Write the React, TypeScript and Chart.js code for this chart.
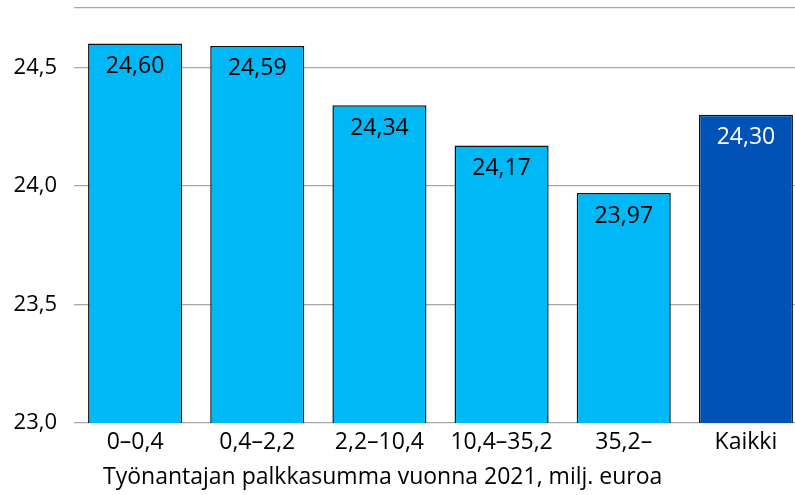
import React, { useEffect, useRef } from "react";
import { Chart, registerables } from "chart.js";

Chart.register(...registerables);

const categories = ["0–0,4", "0,4–2,2", "2,2–10,4", "10,4–35,2", "35,2–", "Kaikki"];
const values = [24.6, 24.59, 24.34, 24.17, 23.97, 24.3];
const barColors = ["#00B8F5", "#00B8F5", "#00B8F5", "#00B8F5", "#00B8F5", "#0052B4"];
const labelColors = ["#000000", "#000000", "#000000", "#000000", "#000000", "#FFFFFF"];
const yTicks = [23.0, 23.5, 24.0, 24.5, 24.75];
const xTitle = "Työnantajan palkkasumma vuonna 2021, milj. euroa";

const FONT = "'Open Sans', sans-serif";

const valueLabels = {
  id: "valueLabels",
  afterDatasetsDraw(chart: any) {
    const ctx = chart.ctx;
    const meta = chart.getDatasetMeta(0);
    ctx.save();
    ctx.font = `23px ${FONT}`;
    ctx.textAlign = "center";
    ctx.textBaseline = "middle";
    meta.data.forEach((bar: any, i: number) => {
      ctx.fillStyle = labelColors[i];
      const txt = values[i].toFixed(2).replace(".", ",");
      ctx.fillText(txt, bar.x, bar.y + 23);
    });
    ctx.restore();
  },
};

const axisTitle = {
  id: "axisTitle",
  afterDraw(chart: any) {
    const ctx = chart.ctx;
    const xs = chart.scales.x;
    ctx.save();
    ctx.font = `23px ${FONT}`;
    ctx.fillStyle = "#000";
    ctx.textAlign = "left";
    ctx.textBaseline = "middle";
    ctx.fillText(xTitle, xs.left + 29, xs.bottom - 18);
    ctx.restore();
  },
};

export default function App() {
  const ref = useRef<HTMLCanvasElement>(null);
  useEffect(() => {
    document.body.style.margin = "0";
    const chart = new Chart(ref.current!, {
      type: "bar",
      data: {
        labels: categories,
        datasets: [
          {
            data: values,
            backgroundColor: barColors,
            borderColor: "#111111",
            borderWidth: 1.5,
            borderSkipped: false,
            categoryPercentage: 1,
            barPercentage: 0.77,
          },
        ],
      },
      options: {
        responsive: false,
        animation: false,
        layout: { padding: { top: 8, right: 0, left: 0, bottom: 0 } },
        plugins: { legend: { display: false }, tooltip: { enabled: false } },
        scales: {
          x: {
            grid: { display: false, drawTicks: false },
            border: { display: false },
            ticks: { color: "#000", font: { family: FONT, size: 23 }, padding: 6 },
            afterFit(scale: any) {
              scale.height = 72;
            },
          },
          y: {
            min: 23,
            max: 24.75,
            afterBuildTicks(scale: any) {
              scale.ticks = yTicks.map((v) => ({ value: v }));
            },
            grid: { color: "#A6A6A6", lineWidth: 1.3, drawTicks: false },
            border: { display: false },
            ticks: {
              color: "#000",
              font: { family: FONT, size: 22 },
              padding: 17,
              callback: (v: any) => (v === 24.75 ? "" : Number(v).toFixed(1).replace(".", ",")),
            },
            afterFit(scale: any) {
              scale.width = 74;
              scale.paddingTop = 0;
              scale.paddingBottom = 0;
            },
          },
        },
      },
      plugins: [valueLabels, axisTitle],
    });
    return () => chart.destroy();
  }, []);
  return (
    <div style={{ position: "fixed", left: 0, top: 0, width: 795, height: 495, overflow: "hidden", background: "#fff" }}>
      <canvas ref={ref} width={807} height={495} style={{ display: "block" }} />
    </div>
  );
}
